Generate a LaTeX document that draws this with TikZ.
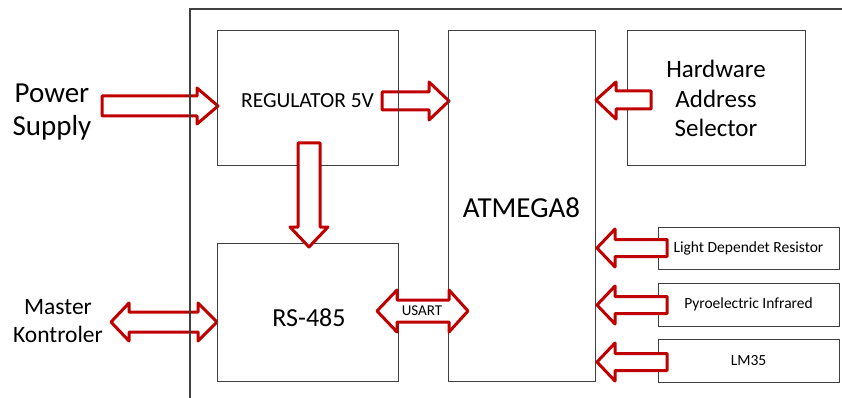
\documentclass[tikz,border=0pt]{standalone}
\usepackage{fontspec}
\setmainfont{Carlito}
\definecolor{arr}{HTML}{C00000}
\definecolor{ln}{HTML}{404040}
\newcommand\mysensarrow[1]{%
  \draw[barrow, shift={(0,#1)}] (667,-8.5) -- (615,-8.5) -- (615,-19) -- (597,0) -- (615,19) -- (615,8.5) -- (667,8.5) -- cycle;}
\begin{document}
\begin{tikzpicture}[x=1pt,y=-1pt,
  box/.style={draw=ln, line width=1pt, inner sep=0pt, outer sep=0pt, align=center},
  barrow/.style={draw=arr, line width=3pt, line join=round, fill=white},
  lbl/.style={align=center, inner sep=0pt}]
\useasboundingbox (0,0) rectangle (842,398);
\fill[white] (0,0) rectangle (842,398);
% arrows that lie under the lines
\draw[barrow] (102,96) -- (197,96) -- (197,88) -- (218,106) -- (197,124) -- (197,116) -- (102,116) -- cycle;
\draw[barrow] (382,92) -- (429,92) -- (429,82) -- (449,101) -- (429,120) -- (429,110) -- (382,110) -- cycle;
\draw[barrow] (111,322) -- (129,303) -- (129,312) -- (198,312) -- (198,303) -- (217,322) -- (198,341) -- (198,332) -- (129,332) -- (129,341) -- cycle;
% frame
\draw[ln, line width=1.2pt] (190,398) -- (190,9) -- (842,9);
% boxes
\node[box, minimum width=181pt, minimum height=135pt] (reg) at (307.5,98.5) {};
\node[lbl, font=\fontsize{21.5}{26}\selectfont] (regt) at (307.5,101) {REGULATOR 5V};
\node[box, minimum width=147pt, minimum height=350pt] (atm) at (521.5,206) {};
\node[lbl, font=\fontsize{29}{34}\selectfont] (atmt) at (521.5,208) {ATMEGA8};
\node[box, minimum width=178pt, minimum height=135pt, font=\fontsize{25}{29.5}\selectfont] (hw) at (716,98.5) {Hardware\\Address\\Selector};
\node[box, minimum width=181pt, minimum height=138pt] (rs) at (307.5,312) {};
\node[lbl, font=\fontsize{26}{31}\selectfont] (rst) at (309,318) {RS-485};
\node[box, minimum width=181pt, minimum height=42pt, font=\fontsize{15.5}{18}\selectfont] (ldr) at (748.5,248) {Light Dependet Resistor};
\node[box, minimum width=181pt, minimum height=43pt, font=\fontsize{15.5}{18}\selectfont] (pir) at (748.5,304.5) {Pyroelectric Infrared};
\node[box, minimum width=181pt, minimum height=43pt, font=\fontsize{15.5}{18}\selectfont] (lm) at (748.5,360.5) {LM35};
% arrows on top
\draw[barrow] (298,143) -- (320,143) -- (320,227) -- (328,227) -- (309,247) -- (290,227) -- (298,227) -- cycle;
\draw[barrow] (651,91) -- (616,91) -- (616,82) -- (596,100) -- (616,119) -- (616,109) -- (651,109) -- cycle;
\draw[barrow] (377,311) -- (397,290) -- (397,300) -- (449,300) -- (449,290) -- (468,311) -- (449,332) -- (449,322) -- (397,322) -- (397,332) -- cycle;
\node[lbl, font=\fontsize{15}{18}\selectfont] (usart) at (422,311) {USART};
\mysensarrow{248}
\mysensarrow{305}
\mysensarrow{362}
% outside labels
\node[lbl, font=\fontsize{29}{33}\selectfont] (ps) at (52,112) {Power\\Supply};
\node[lbl, font=\fontsize{23.5}{28}\selectfont] (mk) at (58,321) {Master\\Kontroler};
\end{tikzpicture}
\end{document}
